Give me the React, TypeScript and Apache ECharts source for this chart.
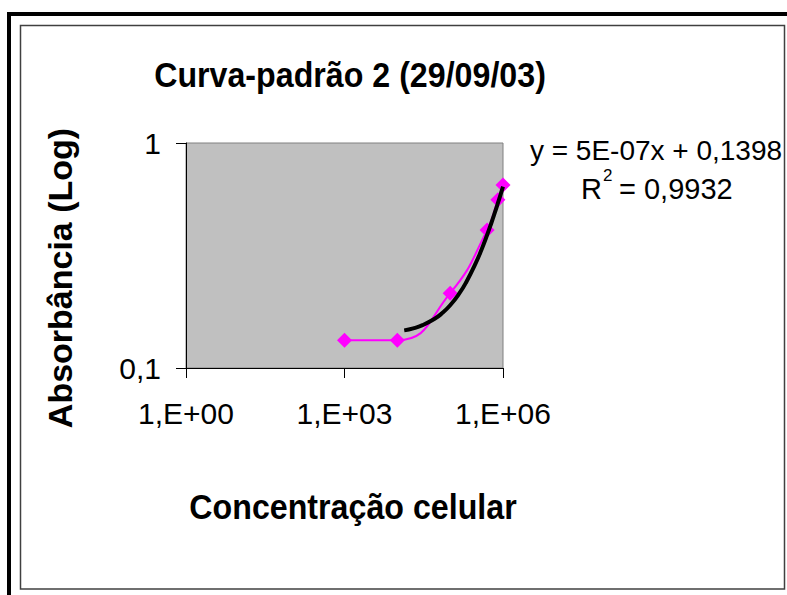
import React, { useEffect, useRef } from "react";
import * as echarts from "echarts";

// Measured data (cell concentration vs absorbance)
const concentration = [1e3, 1e4, 1e5, 5e5, 8e5, 1e6];
const absorbance = [0.133, 0.133, 0.215, 0.41, 0.56, 0.65];

// Linear trendline (as drawn on log-log axes)
const trendX = [1.35e4, 2e4, 3e4, 5e4, 7e4, 1e5, 1.5e5, 2e5, 3e5, 4e5, 5e5, 6e5, 7e5, 8e5, 9e5, 1e6];
const trendY = [0.147, 0.15, 0.155, 0.165, 0.175, 0.19, 0.215, 0.24, 0.29, 0.34, 0.39, 0.44, 0.49, 0.54, 0.59, 0.64];

// Tick labels
const xTickExps = [0, 3, 6];
const xTickLabels = ["1,E+00", "1,E+03", "1,E+06"];
const yTickExps = [-1, 0];
const yTickLabels = ["0,1", "1"];

const titleText = "Curva-padrão 2 (29/09/03)";
const xName = "Concentração celular";
const yName = "Absorbância (Log)";
const eqLine1 = "y = 5E-07x + 0,1398";
const eqR = "R";
const eqSup = "2";
const eqRest = "= 0,9932";

const FONT = "'Liberation Sans', Arial, Helvetica, sans-serif";

export default function App() {
  const ref = useRef<HTMLDivElement>(null);
  useEffect(() => {
    if (!ref.current) return;
    const chart = echarts.init(ref.current, null, { renderer: "svg" });
    const lookup = (v: number, exps: number[], labels: string[]) => {
      const e = Math.round(Math.log10(v));
      const i = exps.indexOf(e);
      return i >= 0 ? labels[i] : "";
    };
    chart.setOption({
      animation: false,
      backgroundColor: "#ffffff",
      grid: {
        left: 186,
        top: 143,
        right: 787 - 503,
        bottom: 595 - 368,
        show: true,
        backgroundColor: "#C0C0C0",
        borderColor: "#808080",
        borderWidth: 1,
      },
      xAxis: {
        type: "log",
        logBase: 10,
        min: 1,
        max: 1e6,
        interval: 3,
        axisLine: { show: true, lineStyle: { color: "#000", width: 1 } },
        axisTick: { show: true, inside: false, length: 10, lineStyle: { color: "#000", width: 1 } },
        splitLine: { show: false },
        minorTick: { show: false },
        axisLabel: {
          margin: 30,
          fontSize: 30,
          color: "#000",
          fontFamily: FONT,
          formatter: (v: number) => lookup(v, xTickExps, xTickLabels),
        },
      },
      yAxis: {
        type: "log",
        logBase: 10,
        min: 0.1,
        max: 1,
        interval: 1,
        axisLine: { show: true, lineStyle: { color: "#000", width: 1 } },
        axisTick: { show: true, inside: false, length: 10, lineStyle: { color: "#000", width: 1 } },
        splitLine: { show: false },
        axisLabel: {
          margin: 25,
          fontSize: 30,
          color: "#000",
          fontFamily: FONT,
          formatter: (v: number) => lookup(v, yTickExps, yTickLabels),
        },
      },
      series: [
        {
          type: "line",
          data: concentration.map((x, i) => [x, absorbance[i]]),
          smooth: 0.5,
          symbol: "diamond",
          symbolSize: 15,
          lineStyle: { color: "#FF00FF", width: 2 },
          itemStyle: { color: "#FF00FF" },
          z: 2,
        },
        {
          type: "line",
          data: trendX.map((x, i) => [x, trendY[i]]),
          smooth: true,
          symbol: "none",
          lineStyle: { color: "#000000", width: 4 },
          z: 3,
        },
      ],
      graphic: [
        {
          type: "rect",
          shape: { x: 9, y: 14, width: 800, height: 620 },
          style: { fill: "none", stroke: "#000", lineWidth: 4 },
          silent: true,
        },
        {
          type: "rect",
          shape: { x: 20.5, y: 25.5, width: 764, height: 563.5 },
          style: { fill: "none", stroke: "#404040", lineWidth: 1.5 },
          silent: true,
        },
        {
          type: "text",
          x: 350,
          y: 75,
          scaleX: 0.92,
          style: {
            text: titleText,
            font: `bold 35px ${FONT}`,
            fill: "#000",
            textAlign: "center",
            textVerticalAlign: "middle",
          },
        },
        {
          type: "text",
          x: 353,
          y: 507,
          scaleX: 0.92,
          style: {
            text: xName,
            font: `bold 35px ${FONT}`,
            fill: "#000",
            textAlign: "center",
            textVerticalAlign: "middle",
          },
        },
        {
          type: "text",
          x: 60,
          y: 278,
          rotation: Math.PI / 2,
          style: {
            text: yName,
            font: `bold 34px ${FONT}`,
            fill: "#000",
            textAlign: "center",
            textVerticalAlign: "middle",
          },
        },
        {
          type: "text",
          x: 656,
          y: 150,
          style: {
            text: eqLine1,
            font: `28px ${FONT}`,
            fill: "#000",
            textAlign: "center",
            textVerticalAlign: "middle",
          },
        },
        {
          type: "text",
          x: 581,
          y: 189,
          style: {
            text: eqR,
            font: `29px ${FONT}`,
            fill: "#000",
            textAlign: "left",
            textVerticalAlign: "middle",
          },
        },
        {
          type: "text",
          x: 603,
          y: 175,
          style: {
            text: eqSup,
            font: `17px ${FONT}`,
            fill: "#000",
            textAlign: "left",
            textVerticalAlign: "middle",
          },
        },
        {
          type: "text",
          x: 619,
          y: 189,
          style: {
            text: eqRest,
            font: `29px ${FONT}`,
            fill: "#000",
            textAlign: "left",
            textVerticalAlign: "middle",
          },
        },
      ],
    });
    return () => chart.dispose();
  }, []);
  return (
    <div
      ref={ref}
      style={{ position: "absolute", left: 0, top: 0, width: 787, height: 595 }}
    />
  );
}
